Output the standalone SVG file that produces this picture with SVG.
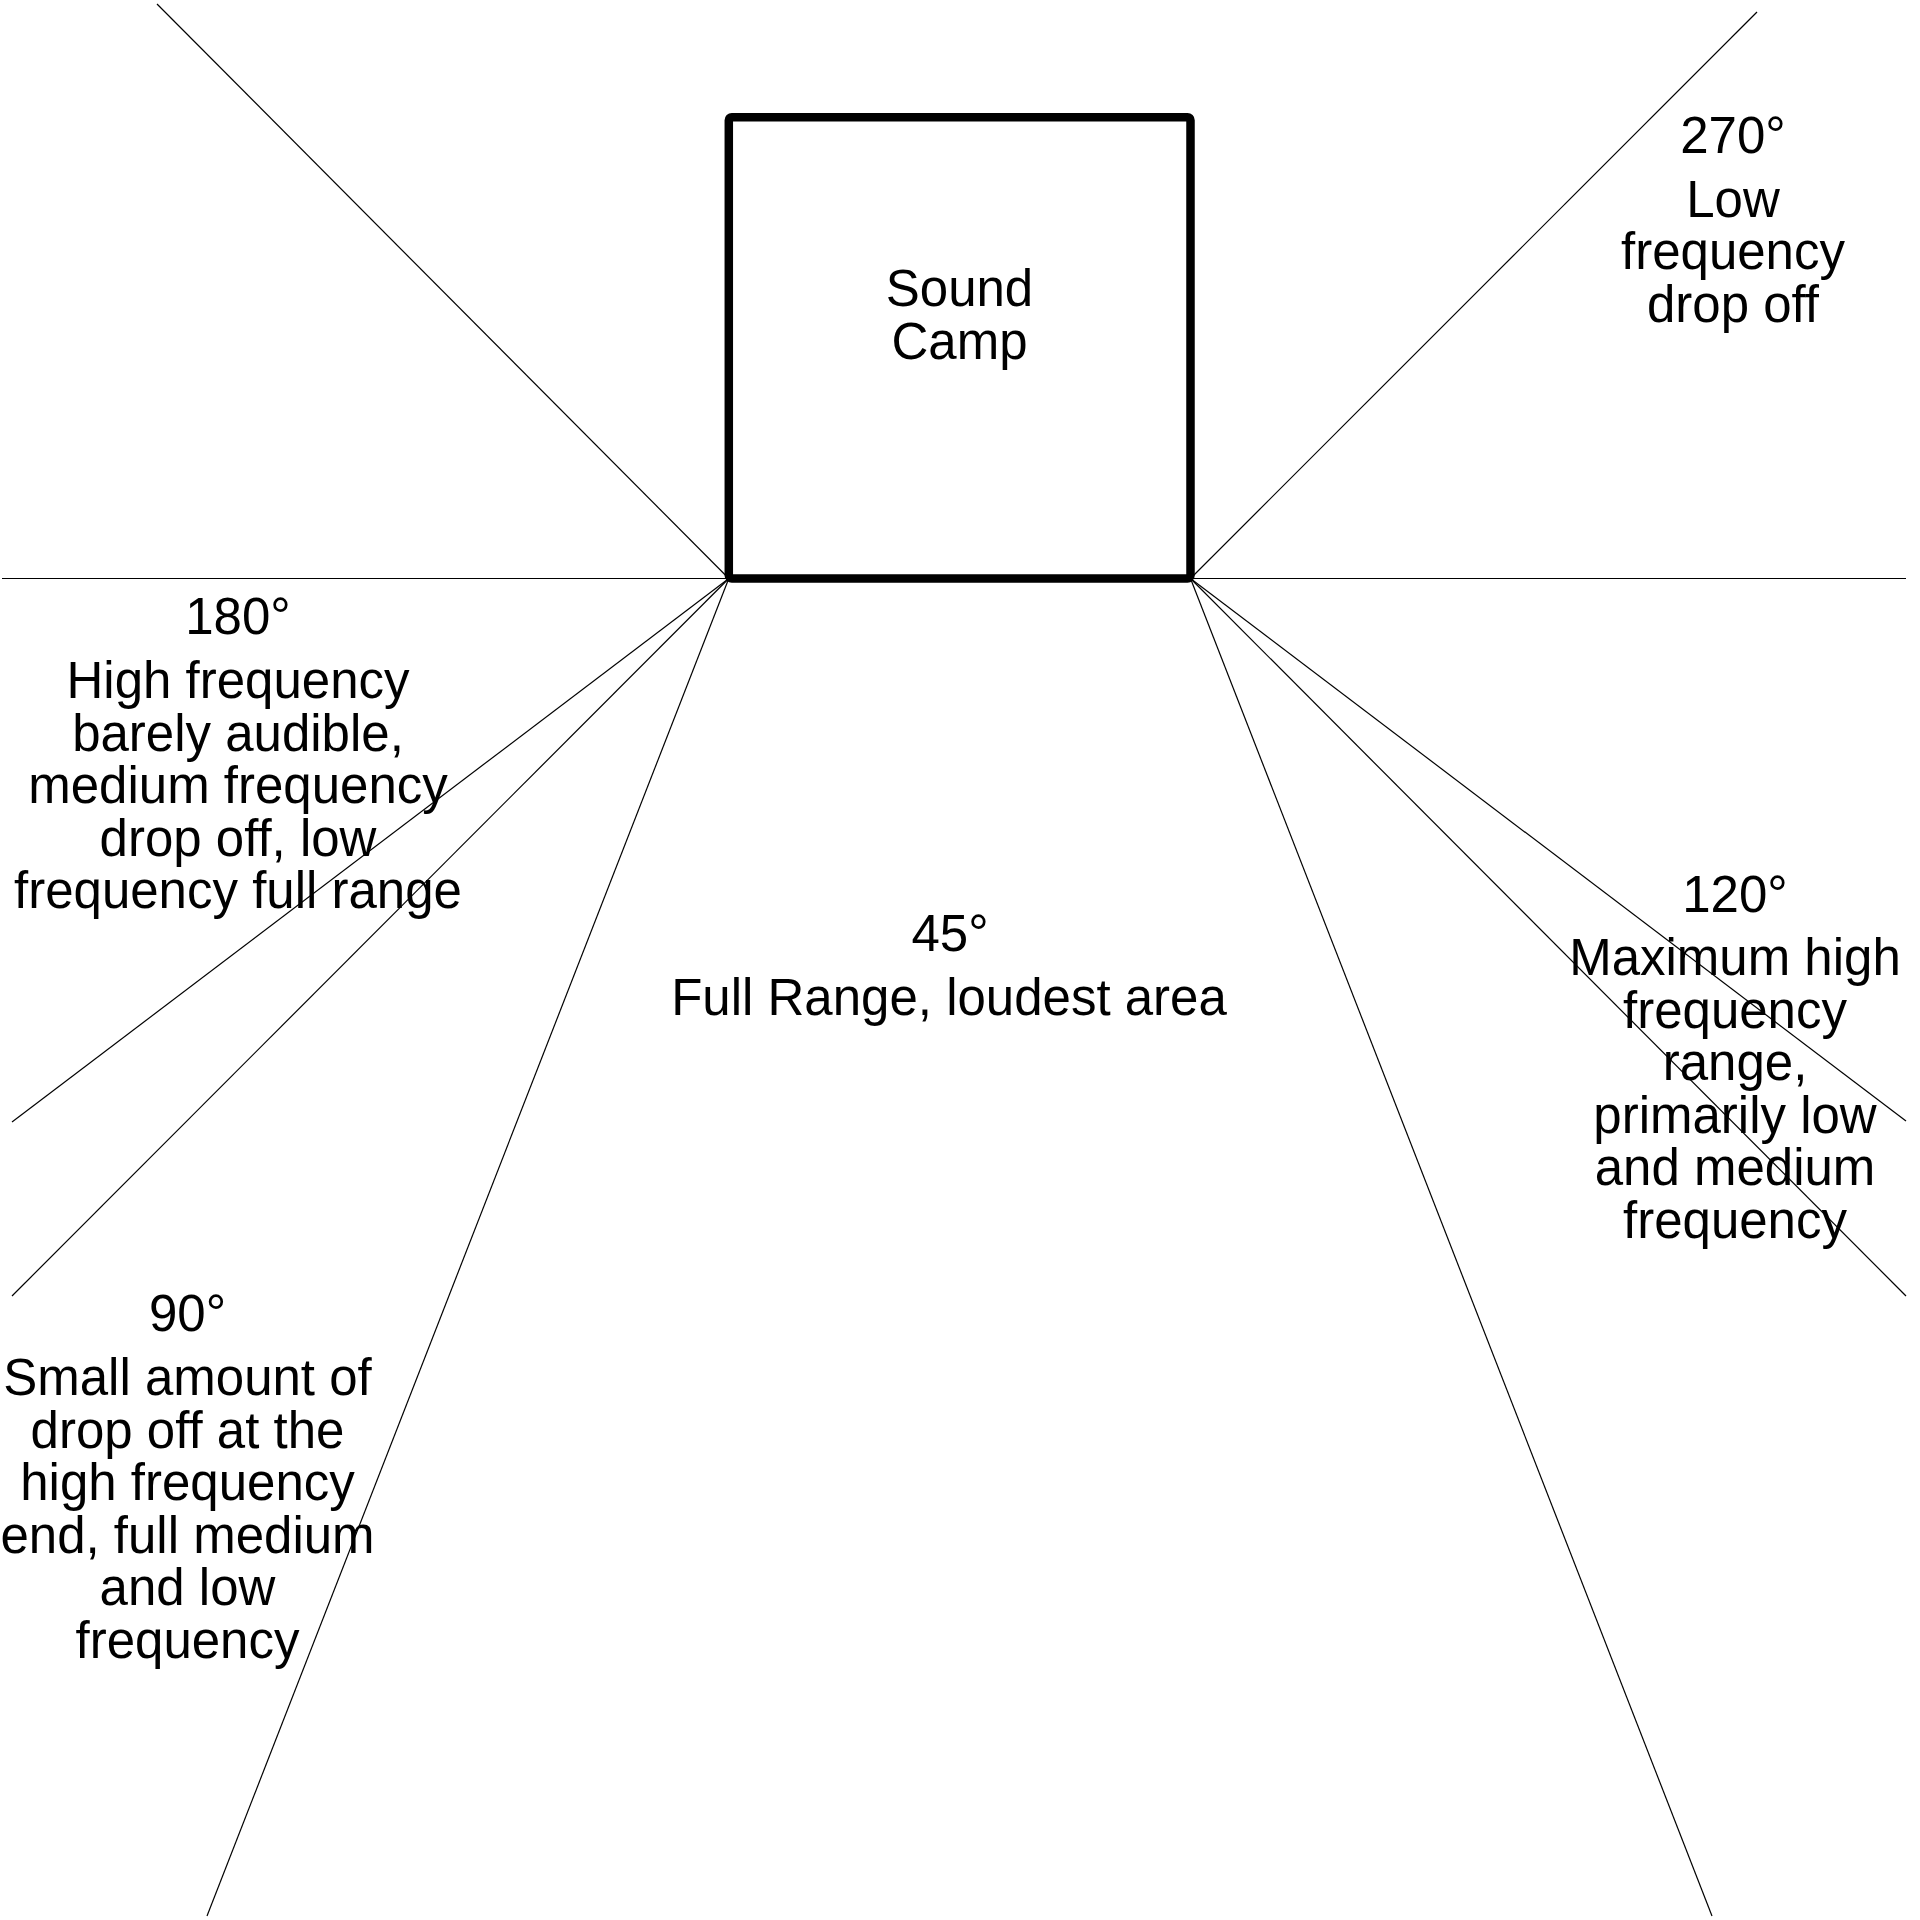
<svg xmlns="http://www.w3.org/2000/svg" width="1920" height="1920" viewBox="0 0 1920 1920">
<style>
  .ray { stroke: #000; stroke-width: 1.2; fill: none; }
  .box { fill: #fff; stroke: #000; stroke-width: 8.5; stroke-linejoin: round; }
  text { font-family: "Liberation Sans", Arial, sans-serif; font-size: 51px; fill: #000; text-anchor: middle; }
</style>
<rect width="1920" height="1920" fill="#fff"/>
<g id="connectors">
  <line class="ray" x1="157" y1="4" x2="728.8" y2="578.5"/>
  <line class="ray" x1="1757" y1="12" x2="1190.5" y2="578.5"/>
  <line class="ray" x1="2" y1="578.5" x2="728.8" y2="578.5"/>
  <line class="ray" x1="1190.5" y1="578.5" x2="1906" y2="578.5"/>
  <line class="ray" x1="728.8" y1="578.5" x2="12" y2="1122"/>
  <line class="ray" x1="728.8" y1="578.5" x2="12" y2="1296"/>
  <line class="ray" x1="728.8" y1="578.5" x2="207" y2="1916"/>
  <line class="ray" x1="1190.5" y1="578.5" x2="1906" y2="1121"/>
  <line class="ray" x1="1190.5" y1="578.5" x2="1906" y2="1296"/>
  <line class="ray" x1="1190.5" y1="578.5" x2="1712" y2="1916"/>
</g>
<g id="sound-camp">
  <rect class="box" x="728.8" y="117.2" width="461.7" height="461.3" rx="3"/>
  <text x="959.5" y="306">Sound</text>
  <text x="959.5" y="358.5">Camp</text>
</g>
<g id="label-270">
  <text x="1733" y="153">270°</text>
  <text x="1733" y="216.5">Low</text>
  <text x="1733" y="269">frequency</text>
  <text x="1733" y="321.5">drop off</text>
</g>
<g id="label-180">
  <text x="238" y="634">180°</text>
  <text x="238" y="698">High frequency</text>
  <text x="238" y="750.5">barely audible,</text>
  <text x="238" y="803">medium frequency</text>
  <text x="238" y="855.5">drop off, low</text>
  <text x="238" y="908">frequency full range</text>
</g>
<g id="label-45">
  <text x="950" y="951">45°</text>
  <text x="949" y="1014.5">Full Range, loudest area</text>
</g>
<g id="label-120">
  <text x="1735" y="911.5">120°</text>
  <text x="1735" y="975">Maximum high</text>
  <text x="1735" y="1027.5">frequency</text>
  <text x="1735" y="1080">range,</text>
  <text x="1735" y="1132.5">primarily low</text>
  <text x="1735" y="1185">and medium</text>
  <text x="1735" y="1237.5">frequency</text>
</g>
<g id="label-90">
  <text x="187.5" y="1331">90°</text>
  <text x="187.5" y="1395">Small amount of</text>
  <text x="187.5" y="1447.5">drop off at the</text>
  <text x="187.5" y="1500">high frequency</text>
  <text x="187.5" y="1552.5">end, full medium</text>
  <text x="187.5" y="1605">and low</text>
  <text x="187.5" y="1657.5">frequency</text>
</g>
</svg>
